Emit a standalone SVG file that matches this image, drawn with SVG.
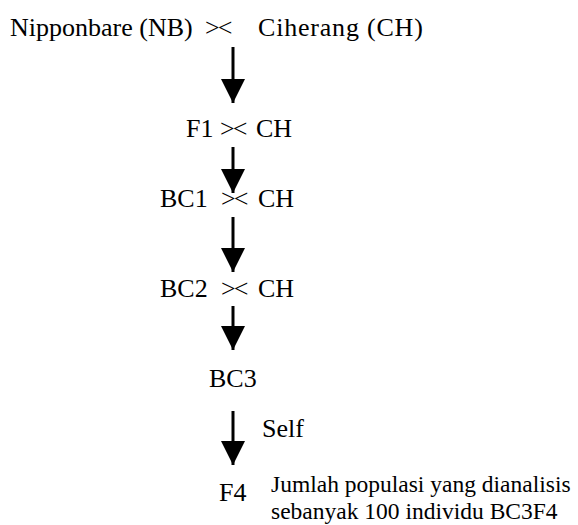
<svg xmlns="http://www.w3.org/2000/svg" width="578" height="525" viewBox="0 0 578 525">
<defs>
<style>
text{font-family:"Liberation Serif","Times New Roman",serif;fill:#000}
.t{font-size:26px}
.s{font-size:23.5px}
.x{font-size:26px;letter-spacing:-2px}
.ln{stroke:#000;stroke-width:3;fill:none}
</style>
<marker id="ah" viewBox="0 0 10 10" refX="10" refY="5" markerWidth="8" markerHeight="8" markerUnits="strokeWidth" orient="auto">
<path d="M0,0 L10,5 L0,10 Z" fill="#000"/>
</marker>
</defs>
<rect width="578" height="525" fill="#fff"/>
<g id="n1">
<text class="t" x="10" y="36">Nipponbare (NB)</text>
<text class="x" x="205" y="36">&gt;&lt;</text>
<text class="t" x="258" y="36" style="letter-spacing:0.8px">Ciherang (CH)</text>
</g>
<g id="n2">
<text class="t" x="186" y="137">F1</text>
<text class="x" x="220" y="137">&gt;&lt;</text>
<text class="t" x="256" y="137">CH</text>
</g>
<g id="n3">
<text class="t" x="160" y="207">BC1</text>
<text class="x" x="221" y="207">&gt;&lt;</text>
<text class="t" x="258" y="207">CH</text>
</g>
<g id="n4">
<text class="t" x="160" y="297">BC2</text>
<text class="x" x="221" y="297">&gt;&lt;</text>
<text class="t" x="258" y="297">CH</text>
</g>
<g id="n5">
<text class="t" x="209" y="387">BC3</text>
</g>
<g id="n6">
<text class="t" x="219" y="501">F4</text>
<text class="s" x="271" y="492">Jumlah populasi yang dianalisis</text>
<text class="s" x="271" y="519">sebanyak 100 individu BC3F4</text>
</g>
<g id="connectors" class="ln">
<line x1="233" y1="47" x2="233" y2="103" marker-end="url(#ah)"/>
<line x1="233" y1="147" x2="233" y2="193" marker-end="url(#ah)"/>
<line x1="233" y1="217" x2="233" y2="272" marker-end="url(#ah)"/>
<line x1="233" y1="306" x2="233" y2="350" marker-end="url(#ah)"/>
<line x1="233" y1="411" x2="233" y2="465" marker-end="url(#ah)"/>
<text class="t" x="262" y="437" style="stroke:none">Self</text>
</g>
</svg>
